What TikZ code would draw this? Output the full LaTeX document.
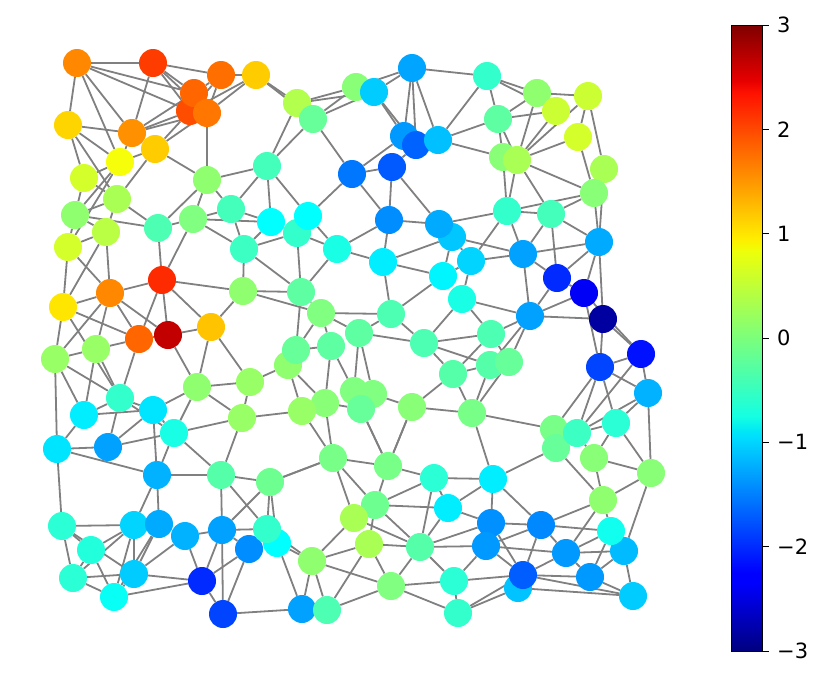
\documentclass[tikz,border=0pt]{standalone}
\usepackage{fontspec}
\setmainfont{DejaVu Sans}
\pgfdeclarelayer{bg}
\pgfsetlayers{bg,main}
\pgfdeclareverticalshading{jetbar}{100bp}{rgb(0bp)=(0,0,0.5); rgb(25bp)=(0,0,0.5); rgb(30.5bp)=(0,0,1); rgb(31.25bp)=(0,0,1); rgb(42bp)=(0,0.86,1); rgb(42.5bp)=(0,0.9,0.968); rgb(43.75bp)=(0.081,1,0.887); rgb(57bp)=(0.935,1,0.032); rgb(57.5bp)=(0.968,0.963,0); rgb(58bp)=(1,0.926,0); rgb(69.5bp)=(1,0.074,0); rgb(70.5bp)=(0.909,0,0); rgb(75bp)=(0.5,0,0); rgb(100bp)=(0.5,0,0)}
\definecolor{graycol}{rgb}{0.5,0.5,0.5}
\newcommand\mynd[4]{%
  \pgfmathsetmacro\myT{(#4+3)/6}%
  \pgfmathsetmacro\myR{max(0,min(1,1.5-abs(4*\myT-3)))}%
  \pgfmathsetmacro\myG{max(0,min(1,1.5-abs(4*\myT-2)))}%
  \pgfmathsetmacro\myB{max(0,min(1,1.5-abs(4*\myT-1)))}%
  \definecolor{col#1}{rgb}{\myR,\myG,\myB}%
  \node[vtx,fill=col#1] (#1) at (#2,#3) {};}
\begin{document}
\begin{tikzpicture}[x=1pt,y=-1pt,
  vtx/.style={circle,inner sep=0pt,minimum size=28pt,draw=none},
  edge/.style={draw=graycol,line width=1.8pt},
  ticklab/.style={anchor=west,inner sep=0pt,font=\fontsize{21}{25}\selectfont}]
\useasboundingbox (0,0) rectangle (830,683);
% nodes
\mynd{a1}{77}{63}{1.45}
\mynd{a2}{153}{63}{1.9}
\mynd{a3}{221}{75}{1.6}
\mynd{a4}{256}{75}{1.05}
\mynd{a6}{190}{111}{1.8}
\mynd{a5}{194}{93}{1.65}
\mynd{a7}{207}{113}{1.55}
\mynd{a8}{68}{125}{1.0}
\mynd{a9}{132}{133}{1.4}
\mynd{a10}{155}{149}{1.05}
\mynd{a11}{120}{162}{0.7}
\mynd{a12}{84}{178}{0.5}
\mynd{a13}{207}{180}{0.1}
\mynd{a14}{117}{199}{0.25}
\mynd{a15}{75}{215}{0.1}
\mynd{a16}{158}{228}{-0.3}
\mynd{a17}{193}{219}{0.0}
\mynd{a18}{231}{209}{-0.35}
\mynd{a19}{106}{232}{0.35}
\mynd{a20}{68}{247}{0.5}
\mynd{a21}{267}{166}{-0.35}
\mynd{a22}{244}{249}{-0.4}
\mynd{a23}{271}{222}{-0.75}
\mynd{a24}{297}{103}{0.3}
\mynd{a25}{313}{119}{-0.15}
\mynd{a26}{356}{87}{0.05}
\mynd{a27}{374}{92}{-1.05}
\mynd{a28}{412}{68}{-1.28}
\mynd{a29}{404}{136}{-1.35}
\mynd{a30}{416}{145}{-1.67}
\mynd{a31}{438}{140}{-1.12}
\mynd{a32}{352}{174}{-1.55}
\mynd{a33}{392}{167}{-1.72}
\mynd{a34}{389}{220}{-1.42}
\mynd{a36}{452}{237}{-1.08}
\mynd{a35}{439}{224}{-1.25}
\mynd{a38}{297}{233}{-0.45}
\mynd{a37}{308}{216}{-0.75}
\mynd{a39}{337}{249}{-0.6}
\mynd{a40}{383}{262}{-0.85}
\mynd{b1}{487}{76}{-0.45}
\mynd{b2}{537}{93}{0.1}
\mynd{b3}{588}{96}{0.45}
\mynd{b4}{556}{111}{0.45}
\mynd{b5}{498}{119}{-0.2}
\mynd{b6}{578}{137}{0.5}
\mynd{b7}{503}{157}{0.05}
\mynd{b8}{517}{160}{0.25}
\mynd{b9}{604}{169}{0.25}
\mynd{b10}{594}{193}{0.05}
\mynd{b11}{507}{211}{-0.45}
\mynd{b12}{551}{214}{-0.35}
\mynd{b13}{599}{242}{-1.25}
\mynd{b14}{523}{254}{-1.3}
\mynd{b15}{471}{261}{-1.0}
\mynd{b16}{443}{276}{-0.8}
\mynd{b17}{557}{278}{-2.0}
\mynd{b18}{584}{293}{-2.3}
\mynd{b19}{603}{319}{-2.8}
\mynd{b20}{530}{316}{-1.3}
\mynd{b21}{462}{299}{-0.6}
\mynd{b22}{491}{334}{-0.3}
\mynd{b23}{641}{354}{-2.15}
\mynd{b24}{600}{367}{-1.85}
\mynd{b25}{490}{365}{-0.25}
\mynd{b26}{509}{362}{-0.15}
\mynd{b27}{648}{393}{-1.2}
\mynd{c1}{162}{280}{2.0}
\mynd{c2}{110}{293}{1.45}
\mynd{c3}{63}{307}{0.9}
\mynd{c4}{243}{291}{0.1}
\mynd{c5}{211}{327}{1.1}
\mynd{c7}{139}{339}{1.65}
\mynd{c6}{168}{335}{2.6}
\mynd{c8}{96}{349}{0.15}
\mynd{c9}{55}{359}{0.15}
\mynd{c10}{197}{387}{0.1}
\mynd{c11}{250}{382}{0.15}
\mynd{c12}{120}{398}{-0.45}
\mynd{c13}{84}{415}{-0.85}
\mynd{c14}{153}{410}{-0.9}
\mynd{c15}{174}{433}{-0.6}
\mynd{c16}{242}{418}{0.15}
\mynd{c17}{108}{447}{-1.3}
\mynd{c18}{57}{449}{-0.9}
\mynd{c19}{157}{475}{-1.2}
\mynd{c20}{221}{475}{-0.25}
\mynd{d1}{301}{292}{-0.2}
\mynd{d2}{321}{313}{0.0}
\mynd{d3}{391}{314}{-0.3}
\mynd{d4}{359}{333}{-0.2}
\mynd{d5}{331}{346}{-0.2}
\mynd{d7}{288}{365}{0.1}
\mynd{d6}{296}{350}{-0.15}
\mynd{d8}{424}{343}{-0.3}
\mynd{d9}{453}{374}{-0.25}
\mynd{d10}{354}{391}{0.0}
\mynd{d11}{373}{394}{0.0}
\mynd{d13}{361}{409}{-0.15}
\mynd{d12}{325}{403}{0.05}
\mynd{d14}{302}{411}{0.15}
\mynd{d15}{412}{407}{0.05}
\mynd{d16}{472}{413}{-0.05}
\mynd{d17}{333}{458}{-0.05}
\mynd{d18}{388}{466}{-0.05}
\mynd{d19}{270}{482}{-0.1}
\mynd{d20}{434}{478}{-0.5}
\mynd{d21}{493}{479}{-0.85}
\mynd{e1}{554}{429}{-0.05}
\mynd{e4}{556}{448}{-0.15}
\mynd{e2}{577}{433}{-0.4}
\mynd{e3}{616}{423}{-0.5}
\mynd{e5}{594}{458}{0.05}
\mynd{e6}{651}{473}{0.05}
\mynd{e7}{603}{500}{0.1}
\mynd{f1}{62}{526}{-0.5}
\mynd{f2}{134}{525}{-1.0}
\mynd{f3}{159}{524}{-1.25}
\mynd{f4}{185}{536}{-1.2}
\mynd{f5}{222}{530}{-1.3}
\mynd{f8}{249}{549}{-1.42}
\mynd{f7}{277}{543}{-0.75}
\mynd{f6}{267}{529}{-0.45}
\mynd{f9}{91}{550}{-0.55}
\mynd{f10}{73}{578}{-0.5}
\mynd{f11}{134}{574}{-1.05}
\mynd{f12}{202}{581}{-2.0}
\mynd{f13}{114}{597}{-0.7}
\mynd{f14}{223}{614}{-1.85}
\mynd{f15}{312}{561}{0.1}
\mynd{f16}{302}{609}{-1.3}
\mynd{f17}{327}{610}{-0.3}
\mynd{f18}{375}{505}{-0.1}
\mynd{f19}{448}{508}{-0.85}
\mynd{f20}{354}{518}{0.25}
\mynd{f21}{369}{544}{0.25}
\mynd{f22}{420}{547}{-0.25}
\mynd{f23}{391}{586}{0.0}
\mynd{f24}{454}{581}{-0.5}
\mynd{f25}{458}{613}{-0.45}
\mynd{f26}{491}{523}{-1.4}
\mynd{f27}{486}{546}{-1.35}
\mynd{f28}{541}{525}{-1.45}
\mynd{f29}{566}{553}{-1.35}
\mynd{f31}{624}{551}{-1.15}
\mynd{f30}{611}{531}{-0.65}
\mynd{f33}{518}{588}{-1.1}
\mynd{f32}{523}{575}{-1.7}
\mynd{f34}{590}{577}{-1.35}
\mynd{f35}{633}{596}{-1.05}
% edges
\begin{pgfonlayer}{bg}
\foreach \u/\v in {a1/a2,a1/a8,a1/a5,a1/a6,a1/a9,a1/a11,
 a2/a3,a2/a5,a2/a6,a2/a7,a2/a9,
 a3/a4,a3/a5,a3/a6,a3/a7,a4/a7,a4/a6,a4/a24,a4/a25,
 a5/a9,a6/a9,a7/a9,a6/a10,a7/a10,a7/a13,
 a8/a9,a8/a11,a8/a12,a8/a14,a9/a11,
 a10/a11,a10/a13,a10/a14,a11/a15,a11/a20,a11/a12,
 a12/a14,a12/a15,a13/a21,a13/a18,a13/a17,a13/a16,
 a14/a15,a14/a16,a14/a19,a15/a16,a15/a19,a15/a20,
 a16/a17,a16/c1,a17/a18,a17/a23,a17/a22,a17/c1,
 a18/a21,a18/a23,a18/a22,a19/a20,a19/c3,a19/c2,a20/c2,a20/c3,
 a21/a24,a21/a25,a21/a23,a21/a37,a22/a23,a22/a38,a22/c4,a22/d1,a23/a38,
 a24/a26,a24/a27,a25/a26,a25/a27,a25/a32,
 a26/a28,a27/a28,a27/a29,a27/a30,a28/b1,a28/a29,a28/a30,a28/a31,
 a32/a29,a32/a33,a32/a37,a32/a34,a33/a30,a33/a34,a33/a35,
 a31/b1,a31/b5,a31/b7,a34/a35,a34/a40,a34/a39,a35/a36,a35/b11,
 a36/b14,a36/b15,a36/a40,a37/a38,a37/a39,a38/a39,a38/d1,a39/a40,a39/d1,
 a40/b16,a40/d3,
 b1/b2,b1/b4,b1/b5,b2/b3,b2/b5,b2/b8,b5/b4,b5/b7,b5/b8,
 b3/b8,b4/b8,b6/b8,b3/b9,b3/b6,b6/b10,b9/b10,
 b7/b11,b8/b11,b8/b12,b8/b10,b11/b12,b11/b10,b12/b10,b10/b13,b9/b13,
 b11/b15,b11/b14,b12/b14,b12/b17,b12/b13,
 b14/b15,b14/b17,b14/b13,b14/b20,b13/b17,b13/b18,b13/b19,
 b15/b16,b15/b21,b16/d3,b16/a36,
 b17/b18,b17/b20,b18/b20,b19/b20,b19/b23,b18/b23,b19/b24,b18/b24,
 b20/b21,b20/b22,b20/b26,b20/b25,b21/b22,b21/d8,
 b22/b26,b22/d8,b22/d9,b25/d8,b25/d9,b25/d16,b26/d16,
 b24/b23,b24/b27,b24/e1,b24/e2,b24/e3,b23/b27,b23/e2,b27/e3,b27/e2,b27/e6,
 c1/c2,c1/c4,c1/c6,c1/c7,c1/c5,c4/c5,c4/d1,c4/d2,
 c2/c3,c2/c6,c2/c7,c2/c8,c2/c9,c3/c7,c3/c9,c3/c12,
 c7/c6,c6/c5,c6/c10,c7/c8,c7/c12,c5/c10,c5/c11,
 c8/c9,c8/c13,c8/c12,c9/c12,c9/c13,c9/c18,
 c10/c11,c10/c14,c10/c15,c10/c16,c11/c16,c11/d7,
 c12/c13,c12/c14,c12/c15,c13/c14,c13/c18,
 c14/c15,c14/c17,c14/c19,c15/c16,c15/c20,c15/c19,
 c17/c18,c17/c12,c17/c15,c16/d14,c16/c20,
 d1/d2,d1/d6,d2/d3,d2/d4,d2/d5,d2/d6,d3/d4,d3/d8,
 d4/d8,d4/d10,d4/d11,d5/d6,d5/d10,d5/d12,d6/d7,
 d7/d12,d7/d14,d8/d9,d9/d15,d9/d16,d10/d13,d11/d15,d11/d13,
 d12/d14,d12/d13,d12/d17,d14/d17,d15/d16,d15/d18,d13/d18,
 d16/e1,d16/d21,
 c18/c19,c18/f1,c19/c20,c19/f3,c19/f2,c20/f5,c20/d19,c20/f6,
 d19/f5,d19/d17,d19/f6,d19/f7,
 f1/f2,f1/f9,f1/f10,f1/f11,f2/f9,f2/f10,f2/f11,f2/f13,
 f3/f11,f3/f13,f4/f5,f4/f12,f4/f11,f5/f12,f5/f14,f5/f6,f5/f8,
 f8/f14,f8/f12,f12/f14,f12/f11,f12/f13,f13/f11,f13/f10,f14/f16,
 f9/f10,f9/f13,f10/f11,
 f6/f15,f7/f15,f7/f16,f15/f16,f15/f17,f15/f23,f15/f20,f15/f21,
 f16/f17,f17/f23,f17/f21,
 d17/d18,d17/d19,d17/f20,d17/f18,d18/d20,d18/f18,d18/d13,d18/d15,
 d20/f18,d20/f22,d20/d21,d20/f19,
 f18/f19,f18/f22,f18/f21,f19/f22,f19/d21,f19/f26,
 f20/f22,f21/f22,f21/f23,f22/f23,f22/f24,f22/f27,f22/f26,
 f23/f24,f23/f25,f24/f25,f24/f27,f24/f32,f25/f32,f25/f33,
 d21/e4,d21/f26,d21/f28,e4/e7,e5/e6,e5/e7,e3/e5,e2/e5,e1/e4,
 e6/e3,e6/e7,e6/f31,e7/f28,e7/f30,e7/f29,e2/e3,
 f26/f28,f26/f32,f28/f32,f28/f29,f28/f30,f28/f27,
 f30/f29,f30/f34,f27/f29,f27/f32,
 f29/f31,f29/f32,f29/f34,f31/f34,f31/f35,
 f32/f34,f32/f35,f34/f35,f33/f35}
 \draw[edge] (\u) -- (\v);
\end{pgfonlayer}
% colorbar
\shade[shading=jetbar] (731,25) rectangle (762,651);
\draw[line width=1pt] (731,25) rectangle (762,651);
\foreach \k/\lab in {0/3,1/2,2/1,3/0,4/−1,5/−2,6/−3}{
  \coordinate (tk\k) at (762,25+104.333*\k);
  \draw[line width=1pt] (tk\k) -- ++(7,0);
  \node[ticklab] (lab\k) at (777,25+104.333*\k) {\lab};
}
\end{tikzpicture}
\end{document}
